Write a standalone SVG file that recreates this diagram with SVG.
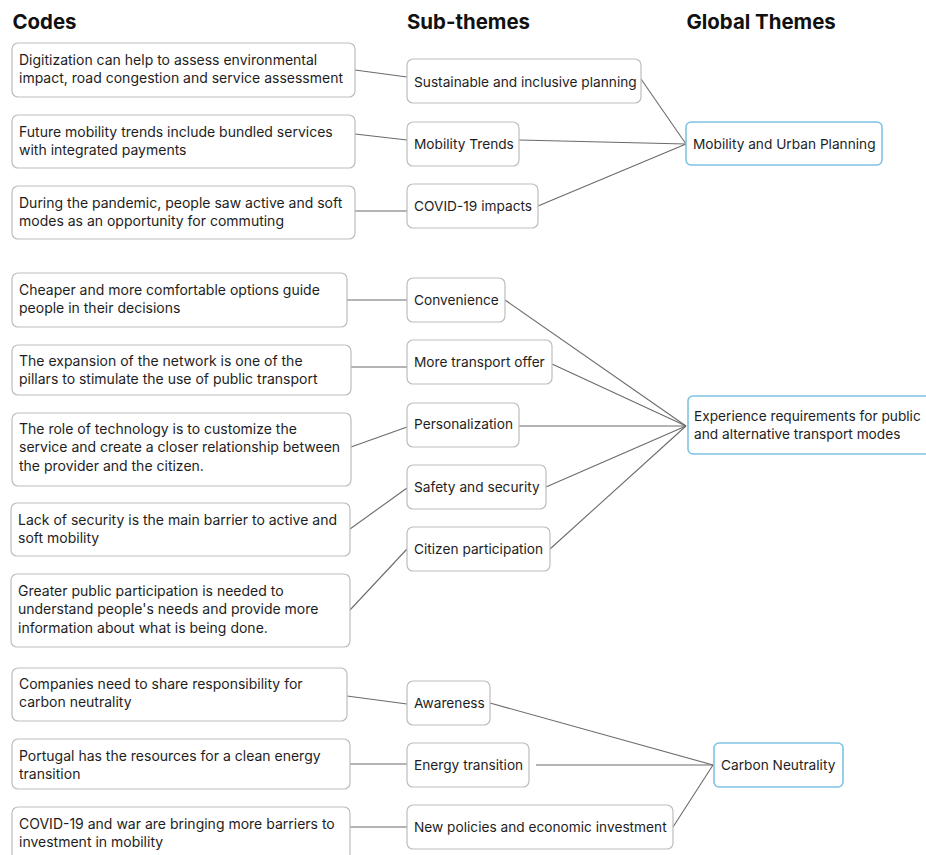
<svg xmlns="http://www.w3.org/2000/svg" width="926" height="855" viewBox="0 0 926 855">
<style>
.bg{fill:#ffffff}
.box{fill:#ffffff;stroke:#bdbdbd;stroke-width:1.2}
.gbox{fill:#ffffff;stroke:#7ec3e3;stroke-width:1.6}
.t{font-family:Inter,"Liberation Sans",sans-serif;font-size:13.7px;fill:#1e1e1e}
.ct{font-family:Inter,"Liberation Sans",sans-serif;font-size:14px;fill:#1e1e1e}
.h{font-family:Inter,"Liberation Sans",sans-serif;font-size:20.4px;font-weight:700;fill:#111111}
.c{fill:none;stroke:#6b6b6b;stroke-width:1.1}
</style>
<rect class="bg" x="0" y="0" width="926" height="855"/>
<g id="headers">
<text class="h" x="12.5" y="29">Codes</text>
<text class="h" x="407" y="29">Sub-themes</text>
<text class="h" x="686.5" y="29">Global Themes</text>
</g>
<g id="connectors">
<line class="c" x1="355" y1="70" x2="407" y2="77"/>
<line class="c" x1="355" y1="134" x2="407" y2="140"/>
<line class="c" x1="355" y1="211" x2="407" y2="211"/>
<line class="c" x1="641" y1="79" x2="686" y2="144"/>
<line class="c" x1="519" y1="140" x2="686" y2="144"/>
<line class="c" x1="538" y1="206" x2="686" y2="144"/>
<line class="c" x1="347" y1="300" x2="407" y2="300"/>
<line class="c" x1="351" y1="367" x2="407" y2="367"/>
<line class="c" x1="351" y1="447" x2="407" y2="427"/>
<line class="c" x1="350" y1="529" x2="407" y2="488"/>
<line class="c" x1="350" y1="610" x2="407" y2="549"/>
<line class="c" x1="505" y1="300" x2="686" y2="426"/>
<line class="c" x1="552" y1="364" x2="686" y2="426"/>
<line class="c" x1="519" y1="426" x2="686" y2="426"/>
<line class="c" x1="546" y1="487" x2="686" y2="426"/>
<line class="c" x1="550" y1="549" x2="686" y2="426"/>
<line class="c" x1="347" y1="696" x2="407" y2="704"/>
<line class="c" x1="350" y1="764" x2="407" y2="764"/>
<line class="c" x1="350" y1="827" x2="407" y2="827"/>
<line class="c" x1="490" y1="703" x2="713" y2="765"/>
<line class="c" x1="536" y1="765" x2="713" y2="765"/>
<line class="c" x1="673" y1="827" x2="713" y2="765"/>
</g>
<g id="code1"><rect class="box" x="12" y="43" width="343" height="54" rx="6"/><text class="ct" x="19" y="65">Digitization can help to assess environmental</text><text class="ct" x="19" y="83">impact, road congestion and service assessment</text></g>
<g id="code2"><rect class="box" x="12" y="115" width="343" height="53" rx="6"/><text class="ct" x="19" y="137">Future mobility trends include bundled services</text><text class="ct" x="19" y="155">with integrated payments</text></g>
<g id="code3"><rect class="box" x="12" y="186" width="343" height="53" rx="6"/><text class="ct" x="19" y="208">During the pandemic, people saw active and soft</text><text class="ct" x="19" y="226">modes as an opportunity for commuting</text></g>
<g id="code4"><rect class="box" x="12" y="273" width="335" height="54" rx="6"/><text class="ct" x="19" y="295">Cheaper and more comfortable options guide</text><text class="ct" x="19" y="313">people in their decisions</text></g>
<g id="code5"><rect class="box" x="12" y="345" width="339" height="50" rx="6"/><text class="ct" x="19" y="366">The expansion of the network is one of the</text><text class="ct" x="19" y="384">pillars to stimulate the use of public transport</text></g>
<g id="code6"><rect class="box" x="12" y="413" width="339" height="73" rx="6"/><text class="ct" x="19" y="434">The role of technology is to customize the</text><text class="ct" x="19" y="452">service and create a closer relationship between</text><text class="ct" x="19" y="471">the provider and the citizen.</text></g>
<g id="code7"><rect class="box" x="11" y="503" width="339" height="53" rx="6"/><text class="ct" x="18" y="525">Lack of security is the main barrier to active and</text><text class="ct" x="18" y="543">soft mobility</text></g>
<g id="code8"><rect class="box" x="11" y="574" width="339" height="73" rx="6"/><text class="ct" x="18" y="596">Greater public participation is needed to</text><text class="ct" x="18" y="614">understand people's needs and provide more</text><text class="ct" x="18" y="633">information about what is being done.</text></g>
<g id="code9"><rect class="box" x="12" y="668" width="335" height="53" rx="6"/><text class="ct" x="19" y="689">Companies need to share responsibility for</text><text class="ct" x="19" y="707">carbon neutrality</text></g>
<g id="code10"><rect class="box" x="12" y="739" width="338" height="50" rx="6"/><text class="ct" x="19" y="761">Portugal has the resources for a clean energy</text><text class="ct" x="19" y="779">transition</text></g>
<g id="code11"><rect class="box" x="12" y="807" width="338" height="56" rx="6"/><text class="ct" x="19" y="829">COVID-19 and war are bringing more barriers to</text><text class="ct" x="19" y="847">investment in mobility</text></g>
<g id="sub1"><rect class="box" x="407" y="59" width="234" height="44" rx="6"/><text class="t" x="414" y="87">Sustainable and inclusive planning</text></g>
<g id="sub2"><rect class="box" x="407" y="122" width="112" height="44" rx="6"/><text class="t" x="414" y="149">Mobility Trends</text></g>
<g id="sub3"><rect class="box" x="407" y="184" width="131" height="44" rx="6"/><text class="t" x="414" y="211">COVID-19 impacts</text></g>
<g id="sub4"><rect class="box" x="407" y="278" width="98" height="44" rx="6"/><text class="t" x="414" y="305">Convenience</text></g>
<g id="sub5"><rect class="box" x="407" y="340" width="145" height="44" rx="6"/><text class="t" x="414" y="367">More transport offer</text></g>
<g id="sub6"><rect class="box" x="407" y="403" width="112" height="44" rx="6"/><text class="t" x="414" y="429">Personalization</text></g>
<g id="sub7"><rect class="box" x="407" y="465" width="139" height="44" rx="6"/><text class="t" x="414" y="492">Safety and security</text></g>
<g id="sub8"><rect class="box" x="407" y="527" width="143" height="44" rx="6"/><text class="t" x="414" y="554">Citizen participation</text></g>
<g id="sub9"><rect class="box" x="407" y="681" width="83" height="44" rx="6"/><text class="t" x="414" y="708">Awareness</text></g>
<g id="sub10"><rect class="box" x="407" y="743" width="122" height="44" rx="6"/><text class="t" x="414" y="770">Energy transition</text></g>
<g id="sub11"><rect class="box" x="407" y="805" width="266" height="44" rx="6"/><text class="t" x="414" y="832">New policies and economic investment</text></g>
<g id="global1"><rect class="gbox" x="686" y="122" width="196" height="43" rx="5"/><text class="t" x="693" y="149">Mobility and Urban Planning</text></g>
<g id="global2"><rect class="gbox" x="688" y="396" width="250" height="58" rx="5"/><text class="t" x="694" y="421">Experience requirements for public</text><text class="t" x="694" y="439">and alternative transport modes</text></g>
<g id="global3"><rect class="gbox" x="714" y="743" width="129" height="44" rx="5"/><text class="t" x="721" y="770">Carbon Neutrality</text></g>
</svg>
